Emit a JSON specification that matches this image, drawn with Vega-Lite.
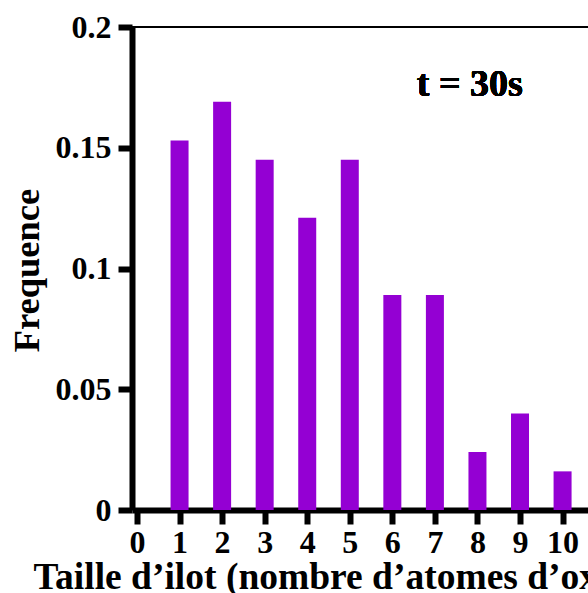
{
  "$schema": "https://vega.github.io/schema/vega-lite/v6.json",
  "autosize": {"type": "none"},
  "width": 456,
  "height": 483,
  "padding": {"left": 132, "top": 27, "right": 0, "bottom": 83},
  "background": "white",
  "config": {
    "view": {"stroke": null},
    "font": "Liberation Serif"
  },
  "data": {
    "values": [
      {"taille": 1, "freq": 0.153},
      {"taille": 2, "freq": 0.169},
      {"taille": 3, "freq": 0.145},
      {"taille": 4, "freq": 0.121},
      {"taille": 5, "freq": 0.145},
      {"taille": 6, "freq": 0.089},
      {"taille": 7, "freq": 0.089},
      {"taille": 8, "freq": 0.024},
      {"taille": 9, "freq": 0.040},
      {"taille": 10, "freq": 0.016}
    ]
  },
  "layer": [
    {
      "mark": {"type": "bar", "size": 18, "color": "#9400D3", "clip": true},
      "encoding": {
        "x": {
          "field": "taille", "type": "quantitative",
          "scale": {"domain": [0, 10.48], "nice": false, "zero": true},
          "axis": {
            "values": [0,1,2,3,4,5,6,7,8,9,10],
            "format": "d",
            "grid": false,
            "domainWidth": 6, "domainColor": "black",
            "tickWidth": 6, "tickSize": 14, "tickColor": "black",
            "labelFont": "Liberation Serif", "labelFontWeight": "bold", "labelFontSize": 32, "labelColor": "black",
            "labelPadding": 3, "labelFlush": false, "labelOverlap": false,
            "title": "Taille d’ilot (nombre d’atomes d’oxygène)",
            "titleFont": "Liberation Serif", "titleFontWeight": "bold", "titleFontSize": 37.5, "titleColor": "black",
            "titleAnchor": "start", "titleAlign": "left", "titleBaseline": "alphabetic",
            "titleX": -99, "titleY": 78
          }
        },
        "y": {
          "field": "freq", "type": "quantitative",
          "scale": {"domain": [0, 0.2], "nice": false},
          "axis": {
            "values": [0, 0.05, 0.1, 0.15, 0.2],
            "format": "~g",
            "grid": false,
            "domainWidth": 6, "domainColor": "black",
            "tickWidth": 6, "tickSize": 14, "tickColor": "black",
            "labelFont": "Liberation Serif", "labelFontWeight": "bold", "labelFontSize": 32, "labelColor": "black",
            "labelPadding": 7, "labelFlush": false, "labelOverlap": false,
            "title": "Frequence",
            "titleFont": "Liberation Serif", "titleFontWeight": "bold", "titleFontSize": 36.5, "titleColor": "black",
            "titleAnchor": "middle", "titleBaseline": "middle",
            "titleX": -105, "titleY": 243
          }
        }
      }
    },
    {
      "mark": {"type": "rule", "color": "black", "strokeWidth": 1.5},
      "encoding": {
        "y": {"datum": 0.2, "type": "quantitative"}
      }
    },
    {
      "mark": {"type": "text", "font": "Liberation Serif", "fontWeight": "bold", "fontSize": 38, "color": "black", "align": "center", "baseline": "middle"},
      "encoding": {
        "x": {"datum": 7.82, "type": "quantitative"},
        "y": {"datum": 0.176, "type": "quantitative"},
        "text": {"value": "t = 30s"}
      }
    }
  ]
}
